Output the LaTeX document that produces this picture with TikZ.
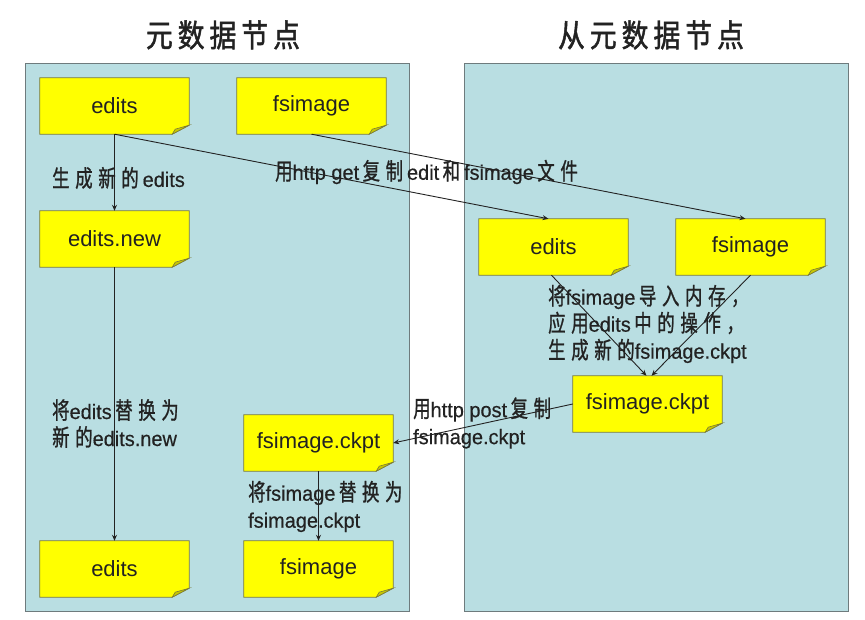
\documentclass[tikz,border=0pt]{standalone}
\usepackage{fontspec}
\setmainfont{Liberation Sans}
\newfontfamily\zhf[Scale=1.12,FakeStretch=0.74,LetterSpace=24,FakeBold=1]{Noto Sans CJK SC}
\newfontfamily\laf[FakeStretch=0.95,FakeBold=0.4]{Liberation Sans}
\newfontfamily\titf[Scale=1.05,FakeStretch=0.85,LetterSpace=16,FakeBold=1.5]{Noto Sans CJK SC}
\usetikzlibrary{arrows.meta}
\pgfdeclarelayer{background}
\pgfsetlayers{background,main}
\definecolor{panel}{HTML}{B9DEE2}
\definecolor{panelline}{HTML}{6E7B7D}
\definecolor{noteyellow}{HTML}{FFFF00}
\definecolor{noteline}{HTML}{7A7A3A}
\definecolor{foldc}{HTML}{C8C800}
\definecolor{ink}{HTML}{222222}
\begin{document}
\begin{tikzpicture}[x=1pt,y=-1pt,
 note/.style={minimum width=149pt,minimum height=56pt,inner sep=0pt,font=\fontsize{22}{26}\selectfont,text=ink},
 conn/.style={draw=ink,line width=0.9pt,-{Stealth[length=6pt,width=5pt]}},
 lbl/.style={anchor=west,align=left,inner sep=0pt,text=ink,font=\fontsize{21}{27}\selectfont},
 title/.style={font=\titf\fontsize{30}{32}\selectfont,text=ink},
 panelbox/.style={fill=panel,draw=panelline,line width=0.8pt}]
\useasboundingbox (0,0) rectangle (865,620);

\node[note] (le) at (114.5,106) {edits};
\node[note] (lf) at (311.5,106) {fsimage};
\node[note] (ln) at (114.5,239) {edits.new};
\node[note] (re) at (553.5,247) {edits};
\node[note] (rf) at (750.5,247) {fsimage};
\node[note] (rc) at (647.5,404) {fsimage.ckpt};
\node[note] (lc) at (318.5,443) {fsimage.ckpt};
\node[note] (le2) at (114.5,569) {edits};
\node[note] (lf2) at (318.5,569) {fsimage};

\begin{pgfonlayer}{background}
\fill[white] (0,0) rectangle (865,620);
\draw[panelbox] (25,63) rectangle (409,611);
\draw[panelbox] (464,63) rectangle (848,611);
\foreach \n in {le,lf,ln,re,rf,rc,lc,le2,lf2}{
 \filldraw[fill=noteyellow,draw=noteline,line width=0.8pt] (\n.north west) -- (\n.north east) -- ([yshift=9pt]\n.south east) -- ([xshift=-17pt]\n.south east) -- (\n.south west) -- cycle;
 \filldraw[fill=foldc,draw=noteline,line width=0.6pt] ([yshift=9pt]\n.south east) -- ([xshift=-17pt]\n.south east) -- ([xshift=-14pt,yshift=5pt]\n.south east) -- cycle;
}
\end{pgfonlayer}

\draw[conn] (le.south) -- (ln.north);
\draw[conn] (le.south) -- ([xshift=-5pt]re.north);
\draw[conn] (lf.south) -- ([xshift=-5pt]rf.north);
\draw[conn] ([xshift=-2pt]re.south) -- ([xshift=-1pt]rc.north);
\draw[conn] (rf.south) -- ([xshift=4pt]rc.north);
\draw[conn] (rc.west) -- (lc.east);
\draw[conn] (ln.south) -- (le2.north);
\draw[conn] (lc.south) -- (lf2.north);

\node[lbl] (t1) at (52,178) {\zhf 生成新的\,\laf edits};
\node[lbl] (t2) at (275,172) {\zhf 用\laf http get\,\zhf 复制\,\laf edit\,\zhf 和\,\laf fsimage\,\zhf 文件};
\node[lbl] (t3) at (548,324) {\zhf 将\laf fsimage\,\zhf 导入内存，\\\zhf 应用\laf edits\,\zhf 中的操作，\\\zhf 生成新的\laf fsimage.ckpt};
\node[lbl] (t4) at (413,423) {\zhf 用\laf http post\,\zhf 复制\\\laf fsimage.ckpt};
\node[lbl] (t5) at (52,423.5) {\zhf 将\laf edits\,\zhf 替换为\\\zhf 新的\laf edits.new};
\node[lbl] (t6) at (248,506.5) {\zhf 将\laf fsimage\,\zhf 替换为\\\laf fsimage.ckpt};

\node[title] (h1) at (223,35) {元数据节点};
\node[title] (h2) at (651,35) {从元数据节点};
\end{tikzpicture}
\end{document}
